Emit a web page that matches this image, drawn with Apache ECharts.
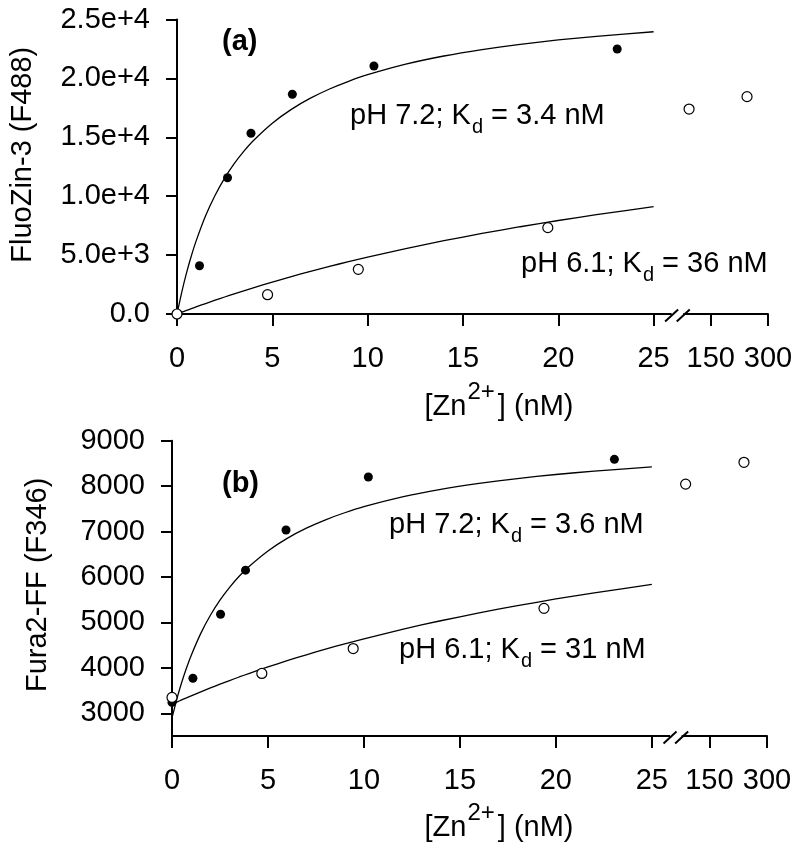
<!DOCTYPE html>
<html><head><meta charset="utf-8">
<script src="https://cdn.jsdelivr.net/npm/echarts@6/dist/echarts.min.js"></script>
<style>html,body{margin:0;padding:0;background:#fff}#c{width:800px;height:854px}</style>
</head><body><div id="c"></div>
<script>
const FONT = "'Liberation Sans', Arial, Helvetica, sans-serif";
const FS = 29;

// x ticks in nM; values above 25 nM lie on the compressed segment after the axis break
const xTickValues = [0, 5, 10, 15, 20, 25, 150, 300];
const xTickLabels = ['0', '5', '10', '15', '20', '25', '150', '300'];

// ---- panel (a): FluoZin-3 ----
const aYTicks  = [0, 5000, 10000, 15000, 20000, 25000];
const aYLabels = ['0.0', '5.0e+3', '1.0e+4', '1.5e+4', '2.0e+4', '2.5e+4'];
const aX72 = [0, 1.18, 2.65, 3.88, 6.05, 10.33, 23.09];
const aY72 = [0, 4100, 11570, 15340, 18650, 21050, 22500];
const aX61 = [0, 4.75, 9.51, 19.45, 93, 245];
const aY61 = [0, 1640, 3790, 7330, 17400, 18450];

// fitted curves
const fitX   = [0, 0.25, 0.5, 0.75, 1, 1.5, 2, 2.5, 3, 3.5, 4, 5, 6, 7, 8, 9, 10, 12, 14, 16, 18, 20, 22, 25];
const aFit72 = [0, 1864, 3490, 4919, 6186, 8333, 10081, 11534, 12759, 13807, 14714, 16202, 17374, 18321, 19102, 19756, 20313, 21210, 21901, 22449, 22895, 23265, 23576, 23961];
const aFit61 = [0, 153, 304, 454, 601, 889, 1170, 1443, 1710, 1969, 2223, 2710, 3175, 3618, 4041, 4445, 4832, 5556, 6223, 6838, 7408, 7938, 8430, 9109];

// ---- panel (b): Fura2-FF ----
const bYTicks  = [3000, 4000, 5000, 6000, 7000, 8000, 9000];
const bYLabels = ['3000', '4000', '5000', '6000', '7000', '8000', '9000'];
const bX72 = [0, 1.09, 2.53, 3.83, 5.94, 10.23, 23.05];
const bY72 = [3240, 3770, 5180, 6150, 7035, 8200, 8590];
const bX61 = [0, 4.68, 9.44, 19.38, 88, 240];
const bY61 = [3350, 3877, 4425, 5310, 8045, 8525];
const bFit72 = [2900, 3310, 3671, 3990, 4274, 4759, 5157, 5490, 5773, 6015, 6226, 6574, 6850, 7074, 7259, 7414, 7547, 7762, 7927, 8059, 8167, 8256, 8331, 8424];
const bFit61 = [3200, 3247, 3294, 3339, 3385, 3473, 3558, 3641, 3721, 3799, 3875, 4020, 4158, 4288, 4411, 4529, 4640, 4848, 5037, 5210, 5369, 5516, 5651, 5836];

// broken-axis transform: linear up to 25 nM, then 0..300 nM compressed into 6 units
function toAxis(x) { return x <= 25 ? x : 25 + x / 50; }
const BREAK_POS = 26.25;

const xTickPos = xTickValues.map(toAxis);
function xLabel(v) {
  for (let i = 0; i < xTickPos.length; i++) if (Math.abs(xTickPos[i] - v) < 1e-6) return xTickLabels[i];
  return '';
}
function lookup(ticks, labels) {
  return v => { const i = ticks.indexOf(v); return i >= 0 ? labels[i] : ''; };
}
const pairs = (xs, ys) => xs.map((x, i) => [toAxis(x), ys[i]]);

const axisLine = { show: true, onZero: false, lineStyle: { color: '#000', width: 2 } };
const tickStyle = { color: '#000', width: 2 };
const txt = { fontSize: FS, fontFamily: FONT, color: '#000' };

function xAxis(gi) {
  return {
    gridIndex: gi, type: 'value', min: 0, max: toAxis(300),
    axisLine,
    axisTick: { show: true, inside: false, length: 12, lineStyle: tickStyle, customValues: xTickPos },
    axisLabel: Object.assign({ customValues: xTickPos, formatter: xLabel, margin: 30 }, txt),
    splitLine: { show: false }
  };
}
function yAxis(gi, cfg) {
  return Object.assign({
    gridIndex: gi, type: 'value', axisLine, nameLocation: 'middle', splitLine: { show: false }
  }, cfg);
}

const lineSeries = (xi, ys) => ({
  type: 'line', xAxisIndex: xi, yAxisIndex: xi, data: pairs(fitX, ys),
  showSymbol: false, smooth: 0.2,
  lineStyle: { color: '#000', width: 1.3 }, z: 2, silent: true
});
const filled = (xi, xs, ys) => ({
  type: 'scatter', xAxisIndex: xi, yAxisIndex: xi, data: pairs(xs, ys),
  symbol: 'circle', symbolSize: 9, itemStyle: { color: '#000', opacity: 1 }, z: 3
});
const open = (xi, xs, ys) => ({
  type: 'scatter', xAxisIndex: xi, yAxisIndex: xi, data: pairs(xs, ys),
  symbol: 'circle', symbolSize: 10, itemStyle: { color: '#fff', borderColor: '#000', borderWidth: 1.2, opacity: 1 }, z: 4
});

const chart = echarts.init(document.getElementById('c'), null, { renderer: 'canvas' });
chart.setOption({
  animation: false,
  backgroundColor: '#fff',
  grid: [
    { left: 173, right: 32, top: 19.5, height: 294.5 },
    { left: 172, right: 33, top: 440.7, height: 295.3 }
  ],
  xAxis: [xAxis(0), xAxis(1)],
  yAxis: [
    yAxis(0, {
      min: 0, max: 25000, interval: 5000,
      name: 'FluoZin-3 (F488)', nameGap: 140,
      nameTextStyle: Object.assign({ padding: [0, 0, 0, 24] }, txt),
      axisTick: { show: true, length: 11, lineStyle: tickStyle },
      axisLabel: Object.assign({ formatter: lookup(aYTicks, aYLabels), margin: 27 }, txt)
    }),
    yAxis(1, {
      min: 2500, max: 9000,
      name: 'Fura2-FF (F346)', nameGap: 120,
      nameTextStyle: Object.assign({ padding: [0, 0, 0, 7] }, txt),
      axisTick: { show: true, length: 11, lineStyle: tickStyle, customValues: bYTicks },
      axisLabel: Object.assign({ customValues: bYTicks, formatter: lookup(bYTicks, bYLabels), margin: 27 }, txt)
    })
  ],
  series: [
    lineSeries(0, aFit72), lineSeries(0, aFit61),
    filled(0, aX72, aY72), open(0, aX61, aY61),
    lineSeries(1, bFit72), lineSeries(1, bFit61),
    filled(1, bX72, bY72), open(1, bX61, bY61)
  ]
});

// ---- annotations (sub/superscripts as separate text pieces) ----
const ctx = document.createElement('canvas').getContext('2d');
function measure(t, size, weight) { ctx.font = (weight || 'normal') + ' ' + size + 'px ' + FONT; return ctx.measureText(t).width; }
function textEl(x, y, t, size, extra) {
  return { type: 'text', x, y, silent: true, z: 20,
    style: Object.assign({ text: t, fontSize: size, fontFamily: FONT, fill: '#000', align: 'left', verticalAlign: 'middle' }, extra || {}) };
}
const g = [];
function kdLabel(x, y, ph, k) {
  const t1 = 'pH ' + ph + '; K', t2 = ' = ' + k + ' nM';
  const w1 = measure(t1, FS), wd = measure('d', 20);
  g.push(textEl(x, y, t1, FS));
  g.push(textEl(x + w1 + 1, y + 11.5, 'd', 20));
  g.push(textEl(x + w1 + 1 + wd, y, t2, FS));
}
function znLabel(cx, y) {
  const t1 = '[Zn', ts = '2+', t2 = '] (nM)';
  const w1 = measure(t1, FS), ws = measure(ts, 24) + 4, w2 = measure(t2, FS);
  const x = cx - (w1 + ws + w2) / 2;
  g.push(textEl(x, y, t1, FS));
  g.push(textEl(x + w1 + 1, y - 15, ts, 24));
  g.push(textEl(x + w1 + ws, y, t2, FS));
}
g.push(textEl(222, 42, '(a)', FS, { fontWeight: 'bold' }));
g.push(textEl(222, 484, '(b)', FS, { fontWeight: 'bold' }));
kdLabel(350, 116, '7.2', '3.4');
kdLabel(521, 264, '6.1', '36');
kdLabel(389, 525, '7.2', '3.6');
kdLabel(399, 650, '6.1', '31');
znLabel(499, 407);
znLabel(499, 828);

// ---- axis break marks ----
[[0, 0], [1, 2500]].forEach(([gi, ymin]) => {
  const p = chart.convertToPixel({ xAxisIndex: gi, yAxisIndex: gi }, [BREAK_POS, ymin]);
  const c = p[0], y = p[1];
  g.push({ type: 'rect', silent: true, shape: { x: c - 5.8, y: y - 2.5, width: 11.6, height: 5 }, style: { fill: '#fff' }, z: 10 });
  [c - 5.8, c + 5.8].forEach(sc => {
    g.push({ type: 'line', silent: true, shape: { x1: sc - 6.5, y1: y + 7.5, x2: sc + 6.5, y2: y - 4.5 }, style: { stroke: '#000', lineWidth: 2 }, z: 11 });
  });
});
chart.setOption({ graphic: g });
</script>
</body></html>
